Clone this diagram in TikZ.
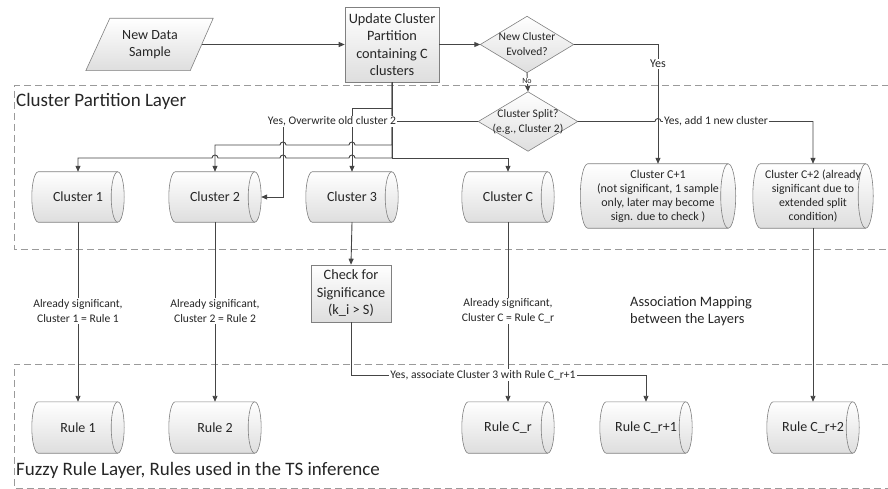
\documentclass[tikz,border=0pt]{standalone}
\usepackage{fontspec}
\setmainfont{Carlito}
\usetikzlibrary{calc,backgrounds,arrows.meta}
\definecolor{ln}{HTML}{454545}
\definecolor{edgec}{HTML}{808080}
\definecolor{dashc}{HTML}{9A9A9A}
\definecolor{txtc}{HTML}{262626}
\newcommand\cylshape[2]{%
 \path[shapefill] let \p1=(#1.north west), \p2=(#1.south east), \n1={(\y1-\y2)/2} in
 (\x1+#2,\y1) -- (\x2-#2,\y1) arc[start angle=90,end angle=-90,x radius=#2,y radius=\n1]
 -- (\x1+#2,\y2) arc[start angle=270,end angle=90,x radius=#2,y radius=\n1] -- cycle;
 \draw[draw=edgec, line width=0.6pt] let \p1=(#1.north east), \p2=(#1.south east), \n1={(\y1-\y2)/2} in
 (\x1-#2,\y1) arc[start angle=90,end angle=270,x radius=#2,y radius=\n1];
}
\begin{document}
\begin{tikzpicture}[x=1pt,y=-1pt, text=txtc,
 conn/.style={draw=ln, line width=0.9pt},
 arr/.style={conn, -{Triangle[length=6pt,width=5pt]}},
 boxnode/.style={draw=edgec, line width=0.6pt, top color=white, bottom color=black!13, align=center, font=\fontsize{14.3}{17.5}\selectfont, inner sep=0pt},
 plain/.style={inner sep=0pt, align=center, font=\fontsize{14}{17}\selectfont},
 lbl/.style={fill=white, inner sep=1pt, align=center, font=\fontsize{11.6}{15}\selectfont},
 shapefill/.style={draw=edgec, line width=0.6pt, top color=white, bottom color=black!13},
 layer/.style={draw=dashc, line width=1pt, dash pattern=on 7pt off 4pt},
 ttl/.style={anchor=west, inner sep=0pt, font=\fontsize{19}{22}\selectfont},
]
\useasboundingbox (0,0) rectangle (888,489);

% nodes
\node[plain, minimum width=104, minimum height=52] (nds) at (150,44.5) {New Data\\Sample};
\node[boxnode, minimum width=94, minimum height=75] (upd) at (392,44.5) {Update Cluster\\Partition\\containing C\\clusters};
\node[plain, minimum width=93, minimum height=56, font=\fontsize{11.5}{15}\selectfont] (evo) at (527,44.5) {New Cluster\\Evolved?};
\node[plain, minimum width=99, minimum height=59, font=\fontsize{11.5}{15}\selectfont] (split) at (528,121.5) {Cluster Split?\\(e.g., Cluster 2)};

\node[plain, minimum width=92, minimum height=50] (c1) at (78,197) {Cluster 1};
\node[plain, minimum width=92, minimum height=50] (c2) at (215,197) {Cluster 2};
\node[plain, minimum width=92, minimum height=50] (c3) at (352,197) {Cluster 3};
\node[plain, minimum width=92, minimum height=50] (cC) at (508,197) {Cluster C};
\node[plain, minimum width=155, minimum height=64, font=\fontsize{12}{14}\selectfont] (cp1) at (658,196) {Cluster C+1\\(not significant, 1 sample\\only, later may become\\sign. due to check )};
\node[plain, minimum width=120, minimum height=64, font=\fontsize{11.8}{14}\selectfont] (cp2) at (813,196) {Cluster C+2 (already\\significant due to\\extended split\\condition)};

\node[boxnode, minimum width=80, minimum height=57] (chk) at (351,293.5) {Check for\\Significance\\(k\_i > S)};

\node[plain, minimum width=92, minimum height=51] (r1) at (78,427.5) {Rule 1};
\node[plain, minimum width=92, minimum height=51] (r2) at (215,427.5) {Rule 2};
\node[plain, minimum width=92, minimum height=51] (rC) at (508,427.5) {Rule C\_r};
\node[plain, minimum width=92, minimum height=51] (rC1) at (646,427.5) {Rule C\_r+1};
\node[plain, minimum width=92, minimum height=51] (rC2) at (813,427.5) {Rule C\_r+2};

\node[ttl] (t1) at (16,101) {Cluster Partition Layer};
\node[ttl] (t2) at (16,470) {Fuzzy Rule Layer, Rules used in the TS inference};
\node[anchor=west, inner sep=0pt, align=left, font=\fontsize{14.4}{17.5}\selectfont] (assoc) at (630,311) {Association Mapping\\between the Layers};

% background shapes
\begin{scope}[on background layer]
\draw[layer] (900,86) -- (14,86) -- (14,249) -- (900,249);
\draw[layer] (900,364) -- (14,364) -- (14,488) -- (900,488);
\path[shapefill] ([xshift=12pt]nds.north west) -- ([xshift=11pt]nds.north east) -- ([xshift=-12pt]nds.south east) -- ([xshift=-12pt]nds.south west) -- cycle;
\path[shapefill] (evo.north) -- (evo.east) -- (evo.south) -- (evo.west) -- cycle;
\path[shapefill] (split.north) -- (split.east) -- (split.south) -- (split.west) -- cycle;
\cylshape{c1}{6.5pt}
\cylshape{c2}{6.5pt}
\cylshape{c3}{6.5pt}
\cylshape{cC}{6.5pt}
\cylshape{cp1}{7.5pt}
\cylshape{cp2}{7.5pt}
\cylshape{r1}{6.5pt}
\cylshape{r2}{6.5pt}
\cylshape{rC}{6.5pt}
\cylshape{rC1}{6.5pt}
\cylshape{rC2}{6.5pt}
\end{scope}

% connectors
\draw[arr] (nds.east) -- (upd.west);
\draw[arr] (upd.east) -- (evo.west);
\draw[arr] (evo.south) -- (split.north);
\draw[arr] (evo.east) -| (cp1.north);
\draw[arr] (split.east) -- (655,121.5) arc[start angle=180,end angle=0,radius=3pt] -| (cp2.north);
\draw[arr] (split.west) -- (283,121.5) -- (283,197) -- (c2.east);
\draw[conn] (upd.south) -- (392,158);
\draw[arr] (upd.south) -- (392,108) -- (352,108) -- (c3.north);
\draw[arr] (upd.south) -- (392,145) -- (355,145) arc[start angle=0,end angle=180,radius=3pt]
  -- (286,145) arc[start angle=0,end angle=180,radius=3pt] -- (215,145) -- (c2.north);
\draw[arr] (upd.south) -- (392,158) -- (355,158) arc[start angle=0,end angle=180,radius=3pt]
  -- (286,158) arc[start angle=0,end angle=180,radius=3pt]
  -- (218,158) arc[start angle=0,end angle=180,radius=3pt] -- (78,158) -- (c1.north);
\draw[arr] (upd.south) -- (392,158) -- (508,158) -- (cC.north);
\draw[arr] (c3.south) -- (chk.north);
\draw[arr] (chk.south) -- (351,375) -- (646,375) -- (rC1.north);
\draw[arr] (c1.south) -- (r1.north);
\draw[arr] (c2.south) -- (r2.north);
\draw[arr] (cC.south) -- (rC.north);
\draw[arr] (cp2.south) -- (rC2.north);

% labels
\node[lbl, font=\fontsize{8}{9}\selectfont, inner sep=0.5pt] (lno) at (527,81) {No};
\node[lbl, font=\fontsize{12}{13}\selectfont] (lyes) at (658,64) {Yes};
\node[lbl] (ladd) at (716,121.5) {Yes, add 1 new cluster};
\node[lbl] (lover) at (332,121.5) {Yes, Overwrite old cluster 2};
\node[lbl] (lassoc) at (483,375) {Yes, associate Cluster 3 with Rule C\_r+1};
\node[lbl] (la1) at (78,311) {Already significant,\\Cluster 1 = Rule 1};
\node[lbl] (la2) at (215,311) {Already significant,\\Cluster 2 = Rule 2};
\node[lbl] (laC) at (508,311) {Already significant,\\Cluster C = Rule C\_r};
\end{tikzpicture}
\end{document}
